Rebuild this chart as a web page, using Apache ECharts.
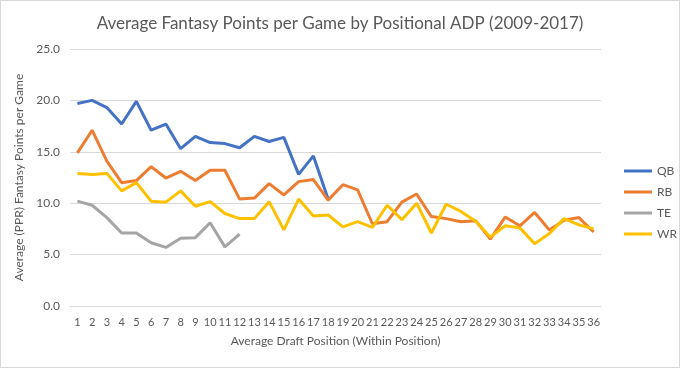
<!DOCTYPE html>
<html><head><meta charset="utf-8">
<script src="https://cdn.jsdelivr.net/npm/echarts@6/dist/echarts.min.js"></script>
<style>html,body{margin:0;padding:0;background:#fff}#c{width:678px;height:366px;border:1px solid #d9d9d9}</style>
</head><body><div id="c"></div>
<script>
var categories = [];
for (var i = 1; i <= 36; i++) categories.push(String(i));
var qb = [19.7,20.0,19.3,17.7,19.9,17.1,17.7,15.3,16.5,15.9,15.8,15.4,16.5,16.0,16.4,12.8,14.6,10.4];
var rb = [14.9,17.1,14.1,12.0,12.2,13.55,12.45,13.1,12.2,13.2,13.2,10.4,10.5,11.9,10.8,12.1,12.3,10.3,11.8,11.3,8.0,8.2,10.1,10.9,8.7,8.5,8.2,8.3,6.5,8.65,7.8,9.1,7.4,8.35,8.6,7.2];
var te = [10.2,9.8,8.6,7.1,7.1,6.15,5.7,6.6,6.65,8.1,5.75,7.0];
var wr = [12.9,12.8,12.9,11.2,12.0,10.2,10.1,11.2,9.7,10.15,9.0,8.5,8.5,10.15,7.4,10.4,8.75,8.85,7.7,8.2,7.65,9.8,8.4,10.0,7.1,9.9,9.2,8.25,6.7,7.8,7.6,6.05,7.05,8.5,7.9,7.5];
var seriesNames = ['QB','RB','TE','WR'];
var colors = ['#4472C4','#ED7D31','#A5A5A5','#FFC000'];
var dataSets = [qb, rb, te, wr];
var font = 'Lato, "Open Sans", sans-serif';
var chart = echarts.init(document.getElementById('c'));
chart.setOption({
  animation: false,
  title: {text: 'Average Fantasy Points per Game by Positional ADP (2009-2017)', left: 'center', top: 9,
    textStyle: {fontFamily: font, fontSize: 17, fontWeight: 'normal', color: '#595959'}},
  legend: {orient: 'vertical', left: 618, top: 159, itemWidth: 28, itemHeight: 3, itemGap: 9, icon: 'rect',
    data: seriesNames, textStyle: {fontFamily: font, fontSize: 12, color: '#595959'}},
  grid: {left: 69, right: 78, top: 48, bottom: 61, containLabel: false},
  xAxis: {type: 'category', data: categories, boundaryGap: true,
    name: 'Average Draft Position (Within Position)', nameLocation: 'middle', nameGap: 29,
    nameTextStyle: {fontFamily: font, fontSize: 12, color: '#595959'},
    axisLine: {lineStyle: {color: '#D9D9D9'}}, axisTick: {show: false},
    axisLabel: {interval: 0, margin: 11, fontFamily: font, fontSize: 11, color: '#595959'}},
  yAxis: {type: 'value', min: 0, max: 25, interval: 5,
    name: 'Average (PPR) Fantasy Points per Game', nameLocation: 'middle', nameGap: 34,
    nameTextStyle: {fontFamily: font, fontSize: 12, color: '#595959'},
    axisLine: {show: false}, axisTick: {show: false},
    splitLine: {lineStyle: {color: '#D9D9D9'}},
    axisLabel: {margin: 10, fontFamily: font, fontSize: 12, color: '#595959', formatter: function(v){return v.toFixed(1);}}},
  series: seriesNames.map(function(n, k){
    return {name: n, type: 'line', data: dataSets[k], symbol: 'none', color: colors[k],
      lineStyle: {width: 3, color: colors[k]}, itemStyle: {color: colors[k]}};
  })
});
</script></body></html>
